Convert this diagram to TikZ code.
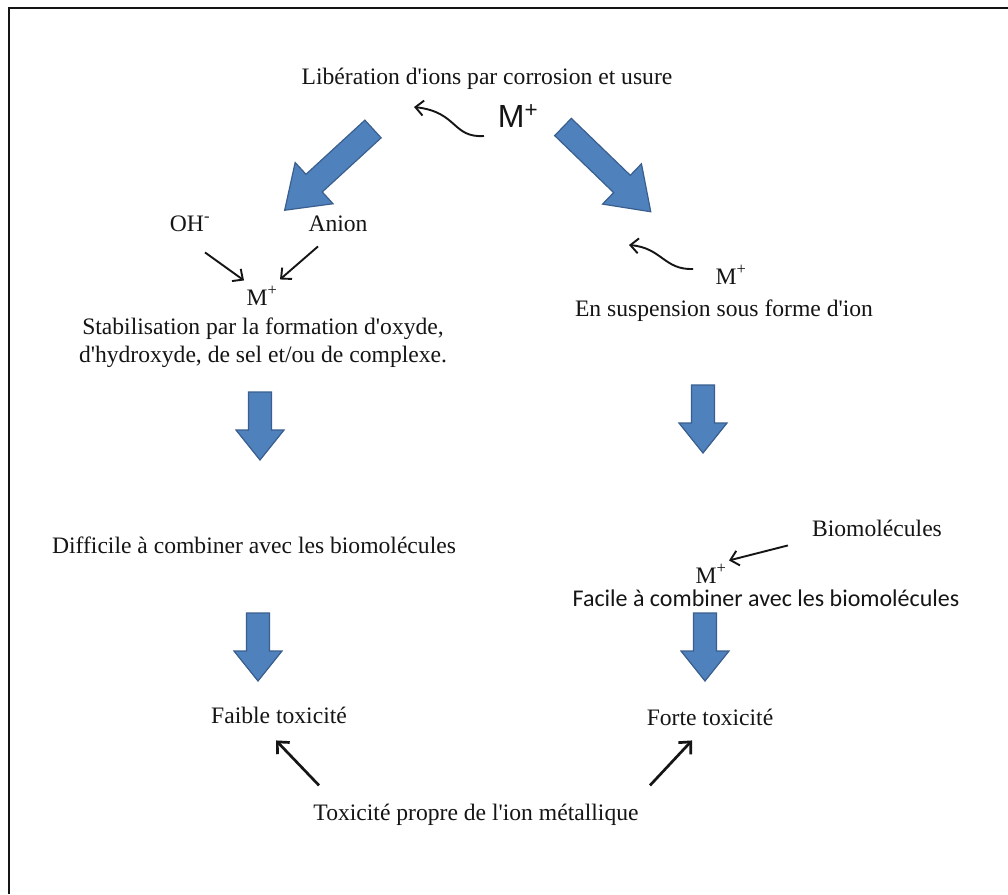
\documentclass[tikz,border=0pt]{standalone}
\usepackage{fontspec}
\setmainfont{Liberation Serif}
\newfontfamily\arialf{Liberation Sans}
\newfontfamily\calibrif{Carlito}
\usetikzlibrary{arrows.meta}
\definecolor{blockfill}{HTML}{4F81BD}
\definecolor{blockline}{HTML}{3A5F8F}
\definecolor{ink}{HTML}{151515}
\newcommand\ap{\textquotesingle}
\newcommand\BlockArrow[6]{% tail, angle, length, half shaft, half head, head length
  \draw[blockarrow, shift={(#1)}, rotate=#2]
    (0,-#4) -- (#3-#6,-#4) -- (#3-#6,-#5) -- (#3,0) -- (#3-#6,#5) -- (#3-#6,#4) -- (0,#4) -- cycle;}
\tikzset{
  txt/.style={font=\fontsize{23.6}{27.5}\selectfont, inner sep=0pt, anchor=base, text=ink},
  bigm/.style={font=\arialf\fontsize{32}{36}\selectfont, inner sep=0pt, anchor=base, text=ink},
  sanstxt/.style={font=\calibrif\fontsize{24}{28}\selectfont, inner sep=0pt, anchor=base, text=ink},
  blockarrow/.style={fill=blockfill, draw=blockline, line width=1.2pt, line join=miter},
  thinarr/.style={draw=ink, line width=1.9pt, -{Straight Barb[length=8pt,width=15pt]}},
  thickarr/.style={draw=ink, line width=2.7pt, -{Straight Barb[length=9pt,width=17pt]}},
}
\begin{document}
\begin{tikzpicture}[x=1pt,y=-1pt]
\useasboundingbox (0,0) rectangle (1008,894);
\fill[white] (0,0) rectangle (1008,894);
% frame
\draw[line width=2.5pt, draw=ink] (9,894) -- (9,8) -- (1008,8);

% top
\node[txt] (title) at (487,84) {Libération d\ap ions par corrosion et usure};
\node[bigm] (m0) at (518,127) {M\textsuperscript{+}};
\draw[thinarr] ([shift={(-34,9)}]m0.base) .. controls (452,138) and (458,112) .. ([shift={(-73,23)}]title.base);

% big diagonal block arrows
\BlockArrow{373,129}{222.6}{120}{12}{28}{40}
\BlockArrow{563,127}{-44}{122}{12}{28}{40}

% left branch
\node[txt] (oh) at (190,231) {OH\textsuperscript{-}};
\node[txt] (anion) at (338,231) {Anion};
\node[txt] (mL) at (262,305) {M\textsuperscript{+}};
\draw[thinarr] ([shift={(15,21)}]oh.south) -- ([shift={(-18,-6)}]mL.north);
\draw[thinarr] ([shift={(-20,15)}]anion.south) -- ([shift={(18,-7)}]mL.north);
\node[txt, align=center, anchor=north] (stab) at (263,318)
  {Stabilisation par la formation d\ap oxyde,\\d\ap hydroxyde, de sel et/ou de complexe.};

% right branch
\node[txt] (mR) at (731,284) {M\textsuperscript{+}};
\node[txt] (susp) at (724,316) {En suspension sous forme d\ap ion};
\draw[thinarr] ([shift={(-38,-15)}]mR.base) .. controls (664,270) and (662,248) .. ([shift={(-102,-39)}]mR.base);

% small down arrows
\BlockArrow{260,392}{-90}{68}{11.5}{24}{30}
\BlockArrow{703,385}{-90}{68}{11.5}{24}{30}
\BlockArrow{258,613}{-90}{68}{11.5}{24}{30}
\BlockArrow{705,613}{-90}{68}{11.5}{24}{30}

% middle texts
\node[txt] (diff) at (254,553) {Difficile à combiner avec les biomolécules};
\node[txt] (bio) at (877,536) {Biomolécules};
\node[txt] (mR2) at (711,583) {M\textsuperscript{+}};
\node[sanstxt] (facile) at (766,606) {Facile à combiner avec les biomolécules};
\draw[thinarr] ([shift={(-24,9)}]bio.south west) -- ([shift={(18,-4)}]mR2.north);

% bottom
\node[txt] (faible) at (279,723) {Faible toxicité};
\node[txt] (forte) at (710,725) {Forte toxicité};
\node[txt] (tox) at (476,820) {Toxicité propre de l\ap ion métallique};
\draw[thickarr] ([shift={(-157,-18)}]tox.north) -- ([shift={(-3,17)}]faible.south);
\draw[thickarr] ([shift={(174,-18)}]tox.north) -- ([shift={(-18,15)}]forte.south);
\end{tikzpicture}
\end{document}
